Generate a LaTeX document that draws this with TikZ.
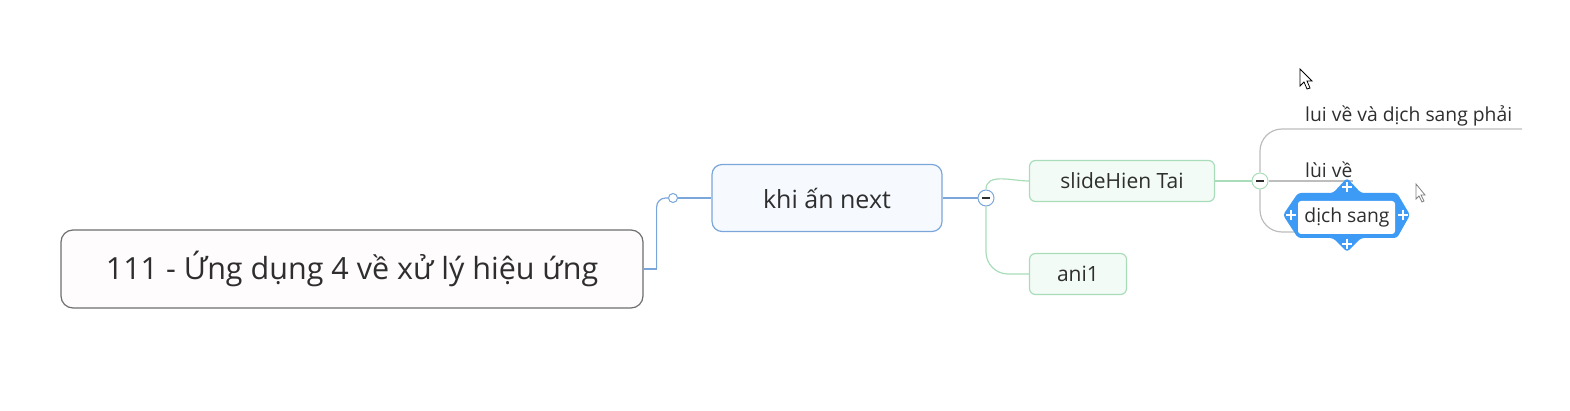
\documentclass[tikz,border=0pt]{standalone}
\usepackage{fontspec}
\setmainfont{Open Sans}
\usetikzlibrary{positioning,calc}

\definecolor{txt}{HTML}{2E2E2E}
\definecolor{rootline}{HTML}{6E6E6E}
\definecolor{rootfill}{HTML}{FFFCFE}
\definecolor{blueline}{HTML}{7AA6DA}
\definecolor{bluefill}{HTML}{F6FAFF}
\definecolor{greenline}{HTML}{A9DDB9}
\definecolor{greenfill}{HTML}{F3FBF6}
\definecolor{grayline}{HTML}{BDBDBD}
\definecolor{selblue}{HTML}{3D9BF5}

\tikzset{
  roottopic/.style={draw=rootline,fill=rootfill,rounded corners=12,line width=1.2,
    minimum width=582,minimum height=78,text=txt,font=\fontsize{30.5}{34}\selectfont},
  maintopic/.style={draw=blueline,fill=bluefill,rounded corners=10,line width=1.2,
    minimum width=230,minimum height=67,text=txt,font=\fontsize{25}{28}\selectfont},
  subtopic/.style={draw=greenline,fill=greenfill,rounded corners=6,line width=1.2,
    minimum height=41,text=txt,font=\fontsize{21}{24}\selectfont},
  leaftopic/.style={inner xsep=0,inner ysep=3,text=txt,font=\fontsize{19.3}{22}\selectfont},
  collapse/.style={circle,draw,fill=white,line width=1,minimum size=16,inner sep=0},
  joint/.style={circle,draw=blueline,fill=white,line width=1,minimum size=9,inner sep=0},
  cursor/.style={fill=white,line width=0.8,line join=miter}
}

\begin{document}
\begin{tikzpicture}[x=1pt,y=-1pt]
\useasboundingbox (0,0) rectangle (1570,411);

% topics
\node[roottopic] (root) at (352,269) {111 - Ứng dụng 4 về xử lý hiệu ứng};
\node[joint] (jc1) at (673,198) {};
\node[maintopic] (next) at (827,198) {khi ấn next};
\node[collapse,draw=blueline] (col1) at (986,198) {};
\node[subtopic,minimum width=185] (slide) at (1122,181) {slideHien Tai};
\node[subtopic,minimum width=97] (ani) at (1078,274) {ani1};
\node[collapse,draw=greenline] (col2) at (1260,181) {};

\node[leaftopic,anchor=south west] (leaf1) at (1305,129) {lui về và dịch sang phải};
\node[leaftopic,anchor=south west] (leaf2) at (1305,181) {lùi về};
\coordinate (end1) at (1522,129);
\coordinate (end3) at (1305,232);

% connectors
\draw[blueline,line width=1.2] (root.east) -- ++(13,0) coordinate (b1);
\draw[blueline,line width=1.2,rounded corners=9] (b1) |- (jc1.west);
\draw[blueline,line width=1.2] (jc1.east) -- (next.west);
\draw[blueline,line width=1.2] (next.east) -- (col1.west);
\draw[greenline,line width=1.2] (col1.north) to[out=90,in=180] (slide.west);
\draw[greenline,line width=1.2,rounded corners=22] (col1.south) |- (ani.west);
\draw[greenline,line width=1.2] (slide.east) -- (col2.west);
\draw[grayline,line width=1.2,rounded corners=22] (col2.north) |- (end1);
\draw[grayline,line width=1.2] (col2.east) -- (leaf2.south east);
\draw[grayline,line width=1.2,rounded corners=22] (col2.south) |- (end3);

% collapse marks
\draw[txt,line width=1.3] ([xshift=-4]col1.center) -- ([xshift=4]col1.center);
\draw[txt,line width=1.3] ([xshift=-4]col2.center) -- ([xshift=4]col2.center);

% selected leaf
\fill[selblue,rounded corners=3] (1298,193) -- (1333,193) -- (1347,178) -- (1361,193)
  -- (1397,193) -- (1410,215) -- (1397,238) -- (1361,238) -- (1347,252) -- (1333,238)
  -- (1298,238) -- (1283,215) -- cycle;
\fill[white,rounded corners=3] (1298,201) rectangle (1395,234);
\node[leaftopic,anchor=center] (leaf3) at (1347,217) {dịch sang};
\foreach \p in {(1347,187),(1291,215),(1403,215),(1347,244)}
  \draw[white,line width=2.6] \p ++(-5,0) -- ++(10,0) \p ++(0,-5) -- ++(0,10);

% mouse pointers
\draw[cursor] (1300,69) -- (1300,86) -- (1304,82) -- (1307,89) -- (1310,88)
  -- (1307,81) -- (1312,81) -- cycle;
\draw[cursor,draw=gray] (1416,184) -- (1416,199) -- (1419,196) -- (1422,202)
  -- (1424,201) -- (1421,195) -- (1425,195) -- cycle;
\end{tikzpicture}
\end{document}
